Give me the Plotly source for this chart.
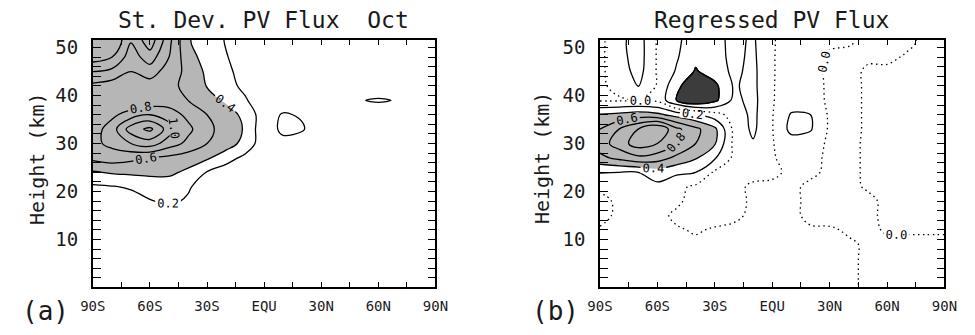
import plotly.graph_objects as go

# ---------------- data ----------------
lats = [-90, -80, -70, -60, -50, -40, -30, -20, -10, 0, 10, 20, 30, 40, 50, 60, 70, 80, 90]
heights_top_down = [54, 51, 48, 45, 42, 39, 36, 33, 30, 27, 24, 21, 18, 15, 12, 9, 6, 3, 0]

x_tickvals = [-90, -60, -30, 0, 30, 60, 90]
x_ticktext = ["90S", "60S", "30S", "EQU", "30N", "60N", "90N"]
y_tickvals = [10, 20, 30, 40, 50]

# (a) standard deviation of PV flux, October (rows: heights_top_down, cols: lats)
sd_rows = [
    [1.30, 1.30, 1.10, 1.40, 0.90, 0.42, 0.30, 0.18, 0.10, 0.06, 0.05, 0.04, 0.04, 0.04, 0.04, 0.04, 0.04, 0.04, 0.04],
    [1.40, 1.40, 1.00, 1.30, 0.85, 0.42, 0.30, 0.19, 0.10, 0.06, 0.05, 0.04, 0.04, 0.04, 0.04, 0.04, 0.04, 0.04, 0.04],
    [1.30, 1.20, 0.90, 1.10, 0.80, 0.48, 0.32, 0.21, 0.12, 0.07, 0.05, 0.04, 0.04, 0.04, 0.04, 0.04, 0.04, 0.04, 0.04],
    [1.00, 0.95, 0.80, 0.90, 0.70, 0.55, 0.36, 0.24, 0.13, 0.07, 0.05, 0.05, 0.04, 0.04, 0.04, 0.04, 0.04, 0.04, 0.04],
    [0.75, 0.70, 0.65, 0.70, 0.65, 0.55, 0.39, 0.26, 0.16, 0.07, 0.06, 0.05, 0.05, 0.05, 0.08, 0.08, 0.06, 0.04, 0.04],
    [0.70, 0.65, 0.60, 0.65, 0.70, 0.60, 0.50, 0.36, 0.22, 0.08, 0.07, 0.06, 0.05, 0.05, 0.19, 0.22, 0.19, 0.05, 0.04],
    [0.70, 0.75, 0.90, 1.00, 0.90, 0.75, 0.60, 0.52, 0.33, 0.10, 0.22, 0.18, 0.06, 0.05, 0.06, 0.08, 0.06, 0.05, 0.04],
    [0.70, 0.90, 1.30, 1.45, 1.10, 0.85, 0.65, 0.52, 0.38, 0.05, 0.26, 0.22, 0.06, 0.05, 0.05, 0.05, 0.05, 0.04, 0.04],
    [0.75, 0.85, 1.00, 1.10, 0.90, 0.75, 0.60, 0.50, 0.33, 0.08, 0.12, 0.10, 0.05, 0.05, 0.05, 0.05, 0.05, 0.04, 0.04],
    [0.65, 0.70, 0.65, 0.60, 0.55, 0.50, 0.43, 0.28, 0.15, 0.05, 0.05, 0.05, 0.04, 0.04, 0.04, 0.04, 0.04, 0.04, 0.04],
    [0.38, 0.42, 0.44, 0.45, 0.44, 0.36, 0.19, 0.10, 0.05, 0.04, 0.04, 0.04, 0.04, 0.04, 0.04, 0.04, 0.04, 0.04, 0.04],
    [0.17, 0.19, 0.22, 0.27, 0.30, 0.22, 0.12, 0.05, 0.04, 0.04, 0.03, 0.03, 0.03, 0.03, 0.03, 0.03, 0.03, 0.03, 0.03],
    [0.08, 0.10, 0.13, 0.19, 0.23, 0.18, 0.08, 0.04, 0.03, 0.03, 0.03, 0.03, 0.03, 0.03, 0.03, 0.03, 0.03, 0.03, 0.03],
    [0.05, 0.06, 0.07, 0.09, 0.10, 0.08, 0.05, 0.03, 0.03, 0.03, 0.03, 0.03, 0.03, 0.03, 0.03, 0.03, 0.03, 0.03, 0.03],
    [0.04, 0.04, 0.04, 0.05, 0.05, 0.04, 0.03, 0.03, 0.03, 0.03, 0.03, 0.03, 0.03, 0.03, 0.03, 0.03, 0.03, 0.03, 0.03],
    [0.03, 0.03, 0.03, 0.03, 0.03, 0.03, 0.03, 0.03, 0.03, 0.03, 0.03, 0.03, 0.03, 0.03, 0.03, 0.03, 0.03, 0.03, 0.03],
    [0.02, 0.02, 0.02, 0.02, 0.02, 0.02, 0.02, 0.02, 0.02, 0.02, 0.02, 0.02, 0.02, 0.02, 0.02, 0.02, 0.02, 0.02, 0.02],
    [0.02, 0.02, 0.02, 0.02, 0.02, 0.02, 0.02, 0.02, 0.02, 0.02, 0.02, 0.02, 0.02, 0.02, 0.02, 0.02, 0.02, 0.02, 0.02],
    [0.02, 0.02, 0.02, 0.02, 0.02, 0.02, 0.02, 0.02, 0.02, 0.02, 0.02, 0.02, 0.02, 0.02, 0.02, 0.02, 0.02, 0.02, 0.02],
]

# (b) regressed PV flux (rows: heights_top_down, cols: lats)
reg_rows = [
    [-0.05, 0.12, 0.28, -0.02, -0.15, -0.30, -0.25, -0.15, -0.22, -0.01, 0.05, 0.06, 0.03, 0.01, -0.03, -0.03, -0.02, 0.02, 0.02],
    [-0.05, 0.14, 0.30, -0.02, -0.16, -0.32, -0.26, -0.15, -0.23, -0.01, 0.05, 0.06, 0.02, 0.01, -0.03, -0.03, -0.02, 0.02, 0.02],
    [-0.04, 0.12, 0.30, -0.02, -0.18, -0.35, -0.27, -0.15, -0.24, -0.01, 0.06, 0.06, -0.02, -0.03, -0.02, -0.02, 0.01, 0.02, 0.02],
    [-0.03, 0.08, 0.28, -0.02, -0.22, -0.42, -0.30, -0.16, -0.25, -0.01, 0.06, 0.06, -0.03, -0.04, 0.02, 0.02, 0.02, 0.02, 0.02],
    [-0.03, 0.05, 0.22, -0.02, -0.35, -0.55, -0.45, -0.18, -0.25, -0.01, 0.07, 0.07, -0.03, -0.04, 0.02, 0.03, 0.03, 0.02, 0.02],
    [-0.02, -0.02, -0.01, -0.04, -0.40, -0.60, -0.45, -0.15, -0.26, -0.01, 0.08, 0.08, -0.03, -0.04, 0.02, 0.03, 0.03, 0.02, 0.02],
    [0.42, 0.45, 0.50, 0.45, 0.32, 0.22, 0.08, -0.08, -0.25, -0.01, 0.22, 0.20, -0.03, -0.04, 0.02, 0.03, 0.03, 0.02, 0.02],
    [0.60, 0.80, 1.00, 1.20, 0.85, 0.65, 0.45, -0.05, -0.24, -0.01, 0.26, 0.22, -0.03, -0.04, 0.02, 0.03, 0.03, 0.02, 0.02],
    [0.70, 0.90, 1.10, 1.00, 0.80, 0.60, 0.42, -0.05, -0.18, -0.01, 0.10, 0.08, -0.03, -0.03, 0.02, 0.03, 0.03, 0.02, 0.02],
    [0.55, 0.65, 0.75, 0.70, 0.55, 0.42, 0.22, -0.04, -0.06, -0.01, 0.04, 0.03, -0.02, -0.03, 0.02, 0.03, 0.03, 0.02, 0.02],
    [0.21, 0.20, 0.20, 0.30, 0.24, 0.20, -0.03, -0.04, -0.04, -0.02, 0.02, 0.02, -0.02, -0.03, 0.02, 0.03, 0.03, 0.02, 0.02],
    [0.02, 0.05, 0.08, 0.15, 0.04, -0.03, -0.04, -0.03, 0.02, 0.02, 0.02, -0.02, -0.02, -0.02, 0.01, 0.02, 0.02, 0.02, 0.02],
    [-0.03, 0.02, 0.05, 0.06, 0.02, -0.04, -0.05, -0.04, 0.02, 0.02, 0.02, -0.02, -0.03, -0.03, -0.02, 0.02, 0.02, 0.02, 0.02],
    [-0.03, 0.02, 0.04, 0.03, -0.02, -0.04, -0.04, -0.02, 0.02, 0.02, 0.02, -0.02, -0.03, -0.03, -0.02, 0.02, 0.02, 0.02, 0.02],
    [0.01, 0.02, 0.03, 0.02, 0.01, -0.01, 0.01, 0.02, 0.02, 0.02, 0.02, 0.01, 0.01, -0.01, -0.02, 0.01, 0.01, 0.01, 0.01],
    [0.02, 0.02, 0.02, 0.02, 0.02, 0.02, 0.02, 0.02, 0.02, 0.02, 0.02, 0.02, 0.02, 0.01, -0.01, -0.02, -0.02, -0.02, -0.02],
    [0.02, 0.02, 0.02, 0.02, 0.02, 0.02, 0.02, 0.02, 0.02, 0.02, 0.02, 0.02, 0.02, 0.01, -0.01, -0.02, -0.02, -0.02, -0.02],
    [0.02, 0.02, 0.02, 0.02, 0.02, 0.02, 0.02, 0.02, 0.02, 0.02, 0.02, 0.02, 0.02, 0.01, -0.01, -0.02, -0.02, -0.02, -0.02],
    [0.02, 0.02, 0.02, 0.02, 0.02, 0.02, 0.02, 0.02, 0.02, 0.02, 0.02, 0.02, 0.02, 0.01, -0.01, -0.02, -0.02, -0.02, -0.02],
]

# ---------------- figure ----------------
heights = heights_top_down[::-1]
sd_z = sd_rows[::-1]
reg_z = reg_rows[::-1]

FONT = "DejaVu Sans Mono"
TXT = "#1a1a1a"
BLACK = [[0, "black"], [1, "black"]]
LIGHT = "rgb(182,182,182)"
DARK = "rgb(60,60,60)"

fig = go.Figure()


def add_fill(z, xa, ya, op, val, color, lw):
    # plotly shades the region that fails the constraint
    fig.add_trace(go.Contour(
        x=lats, y=heights, z=z, xaxis=xa, yaxis=ya,
        contours=dict(type="constraint", operation=op, value=val),
        fillcolor=color, line=dict(color="black", width=lw, smoothing=1),
        showscale=False, hoverinfo="skip"))


def add_lines(z, xa, ya, start, end, dash, labels):
    fig.add_trace(go.Contour(
        x=lats, y=heights, z=z, xaxis=xa, yaxis=ya,
        contours=dict(coloring="lines", start=start, end=end, size=0.2,
                      showlabels=labels,
                      labelfont=dict(family=FONT, size=12, color="black"),
                      labelformat=".1f"),
        colorscale=BLACK, line=dict(width=1.3, dash=dash, smoothing=1),
        showscale=False, hoverinfo="skip"))


# panel (a)
add_fill(sd_z, "x", "y", "<", 0.4, LIGHT, 0)
add_lines(sd_z, "x", "y", 0.2, 2.01, "solid", True)

# panel (b)
add_fill(reg_z, "x2", "y2", "<", 0.4, LIGHT, 0)
add_fill(reg_z, "x2", "y2", ">", -0.4, DARK, 1.3)
add_lines(reg_z, "x2", "y2", 0.2, 2.01, "solid", True)
add_lines(reg_z, "x2", "y2", -1.0, -0.19, "solid", False)
add_lines(reg_z, "x2", "y2", 0.0, 0.1, "1.5px,3.5px", True)

xcommon = dict(range=[-90, 90], tickvals=x_tickvals, ticktext=x_ticktext,
               ticks="inside", ticklen=6, tickwidth=1, tickcolor="black",
               minor=dict(dtick=15, tick0=-90, ticks="inside", ticklen=6, tickwidth=1, tickcolor="black"),
               showline=True, linecolor="black", linewidth=1.5, mirror="ticks",
               showgrid=False, zeroline=False,
               tickfont=dict(family=FONT, size=14, color=TXT), ticklabelstandoff=5)
ycommon = dict(range=[0, 51.65], tickvals=y_tickvals,
               ticks="inside", ticklen=8, tickwidth=1, tickcolor="black",
               minor=dict(dtick=2, tick0=0, ticks="inside", ticklen=8, tickwidth=1, tickcolor="black"),
               showline=True, linecolor="black", linewidth=1.5, mirror="ticks",
               showgrid=False, zeroline=False,
               tickfont=dict(family=FONT, size=19, color=TXT), ticklabelstandoff=9)

fig.update_layout(
    width=975, height=335, margin=dict(l=0, r=0, t=0, b=0),
    paper_bgcolor="white", plot_bgcolor="white", showlegend=False,
    xaxis=dict(domain=[82 / 975, 434 / 975], anchor="y", **xcommon),
    yaxis=dict(domain=[48 / 335, 298 / 335], anchor="x", **ycommon),
    xaxis2=dict(domain=[603 / 975, 957 / 975], anchor="y2", **xcommon),
    yaxis2=dict(domain=[48 / 335, 298 / 335], anchor="x2", **ycommon),
)

ann = [
    dict(text="St. Dev. PV Flux\u00a0\u00a0Oct", x=257 / 975, y=1 - 17 / 335, size=23),
    dict(text="Regressed PV Flux", x=779 / 975, y=1 - 17 / 335, size=23),
    dict(text="Height (km)", x=24 / 975, y=1 - 157 / 335, size=20, angle=-90),
    dict(text="Height (km)", x=543 / 975, y=1 - 157 / 335, size=20, angle=-90),
    dict(text="(a)", x=33 / 975, y=1 - 311 / 335, size=26),
    dict(text="(b)", x=557 / 975, y=1 - 311 / 335, size=26),
]
for a in ann:
    fig.add_annotation(text=a["text"], x=a["x"], y=a["y"], xref="paper", yref="paper",
                       xanchor="center", yanchor="middle", showarrow=False,
                       textangle=a.get("angle", 0),
                       font=dict(family=FONT, size=a["size"], color=TXT))

fig.write_html("out.html")
